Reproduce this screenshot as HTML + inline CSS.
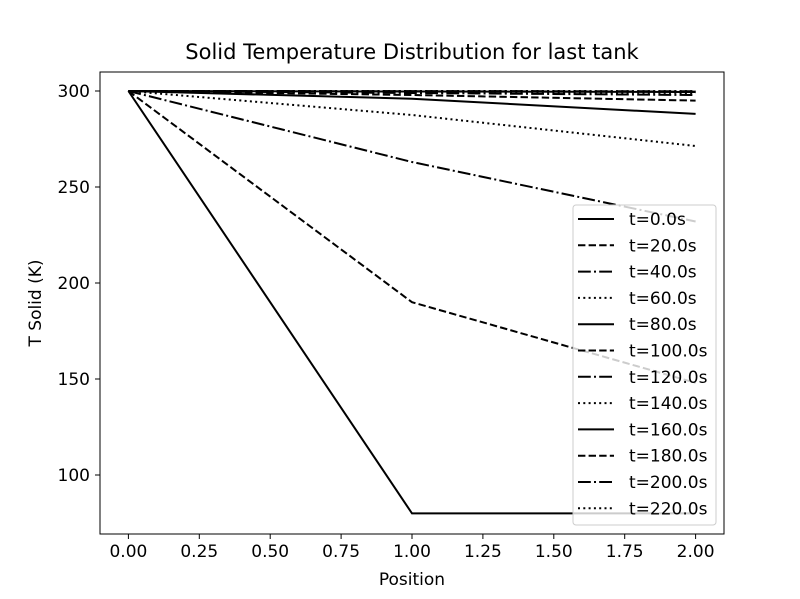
<!DOCTYPE html>
<html><head><meta charset="utf-8"><style>body{margin:0;background:#fff}svg{display:block}text{font-family:"DejaVu Sans","Liberation Sans",sans-serif;fill:#000}</style></head>
<body>
<svg width="800" height="599" viewBox="0 0 800 599" xmlns="http://www.w3.org/2000/svg">
<rect width="800" height="599" fill="#fff"/>
<text x="412" y="59" font-size="21" text-anchor="middle">Solid Temperature Distribution for last tank</text>
<g fill="none" stroke="#000" stroke-width="2">
<polyline points="128.4,91 412,513.4 695.6,513.4"/>
<polyline points="128.4,91 412,302.2 695.6,382.8" stroke-dasharray="7.4,3.2"/>
<polyline points="128.4,91 412,162.0 695.6,221.5" stroke-dasharray="12.8,3.2,2,3.2"/>
<polyline points="128.4,91 412,115.0 695.6,146.0" stroke-dasharray="2,3.3"/>
<polyline points="128.4,91 412,98.7 695.6,113.9"/>
<polyline points="128.4,91 412,95 695.6,100.6" stroke-dasharray="7.4,3.2"/>
<polyline points="128.4,91 412,93 695.6,95" stroke-dasharray="12.8,3.2,2,3.2"/>
<polyline points="128.4,91 412,92 695.6,93" stroke-dasharray="2,3.3"/>
<polyline points="128.4,91 412,91.5 695.6,92"/>
<polyline points="128.4,91 412,91.3 695.6,91.6" stroke-dasharray="7.4,3.2"/>
<polyline points="128.4,91 412,91.1 695.6,91.3" stroke-dasharray="12.8,3.2,2,3.2"/>
<polyline points="128.4,91 412,91 695.6,91.1" stroke-dasharray="2,3.3"/>
</g>
<rect x="100" y="72" width="624" height="462" fill="none" stroke="#000" stroke-width="1"/>
<g stroke="#000" stroke-width="1">
<line x1="128.4" y1="534" x2="128.4" y2="539"/><line x1="199.3" y1="534" x2="199.3" y2="539"/>
<line x1="270.2" y1="534" x2="270.2" y2="539"/><line x1="341.1" y1="534" x2="341.1" y2="539"/>
<line x1="412" y1="534" x2="412" y2="539"/><line x1="482.9" y1="534" x2="482.9" y2="539"/>
<line x1="553.8" y1="534" x2="553.8" y2="539"/><line x1="624.7" y1="534" x2="624.7" y2="539"/>
<line x1="695.6" y1="534" x2="695.6" y2="539"/>
<line x1="95" y1="91" x2="100" y2="91"/><line x1="95" y1="187" x2="100" y2="187"/>
<line x1="95" y1="283" x2="100" y2="283"/><line x1="95" y1="379" x2="100" y2="379"/>
<line x1="95" y1="475" x2="100" y2="475"/>
</g>
<g font-size="17" text-anchor="middle">
<text x="128.4" y="557">0.00</text><text x="199.3" y="557">0.25</text><text x="270.2" y="557">0.50</text>
<text x="341.1" y="557">0.75</text><text x="412" y="557">1.00</text><text x="482.9" y="557">1.25</text>
<text x="553.8" y="557">1.50</text><text x="624.7" y="557">1.75</text><text x="695.6" y="557">2.00</text>
<text x="412" y="585">Position</text>
</g>
<g font-size="17" text-anchor="end">
<text x="90" y="97">300</text><text x="90" y="193">250</text><text x="90" y="289">200</text>
<text x="90" y="385">150</text><text x="90" y="481">100</text>
</g>
<text transform="translate(41,303) rotate(-90)" font-size="17" text-anchor="middle">T Solid (K)</text>
<rect x="573" y="205" width="143" height="320" rx="3" fill="#fff" fill-opacity="0.8" stroke="#ccc" stroke-width="1"/>
<g fill="none" stroke="#000" stroke-width="2">
<line x1="578" y1="219" x2="614" y2="219"/>
<line x1="578" y1="245.3" x2="614" y2="245.3" stroke-dasharray="7.4,3.2"/>
<line x1="578" y1="271.6" x2="614" y2="271.6" stroke-dasharray="12.8,3.2,2,3.2"/>
<line x1="578" y1="297.9" x2="614" y2="297.9" stroke-dasharray="2,3.3"/>
<line x1="578" y1="324.2" x2="614" y2="324.2"/>
<line x1="578" y1="350.5" x2="614" y2="350.5" stroke-dasharray="7.4,3.2"/>
<line x1="578" y1="376.8" x2="614" y2="376.8" stroke-dasharray="12.8,3.2,2,3.2"/>
<line x1="578" y1="403.1" x2="614" y2="403.1" stroke-dasharray="2,3.3"/>
<line x1="578" y1="429.4" x2="614" y2="429.4"/>
<line x1="578" y1="455.7" x2="614" y2="455.7" stroke-dasharray="7.4,3.2"/>
<line x1="578" y1="482" x2="614" y2="482" stroke-dasharray="12.8,3.2,2,3.2"/>
<line x1="578" y1="508.3" x2="614" y2="508.3" stroke-dasharray="2,3.3"/>
</g>
<g font-size="17">
<text x="629" y="225">t=0.0s</text><text x="629" y="251.3">t=20.0s</text><text x="629" y="277.6">t=40.0s</text>
<text x="629" y="303.9">t=60.0s</text><text x="629" y="330.2">t=80.0s</text><text x="629" y="356.5">t=100.0s</text>
<text x="629" y="382.8">t=120.0s</text><text x="629" y="409.1">t=140.0s</text><text x="629" y="435.4">t=160.0s</text>
<text x="629" y="461.7">t=180.0s</text><text x="629" y="488">t=200.0s</text><text x="629" y="514.3">t=220.0s</text>
</g>
</svg>
</body></html>
